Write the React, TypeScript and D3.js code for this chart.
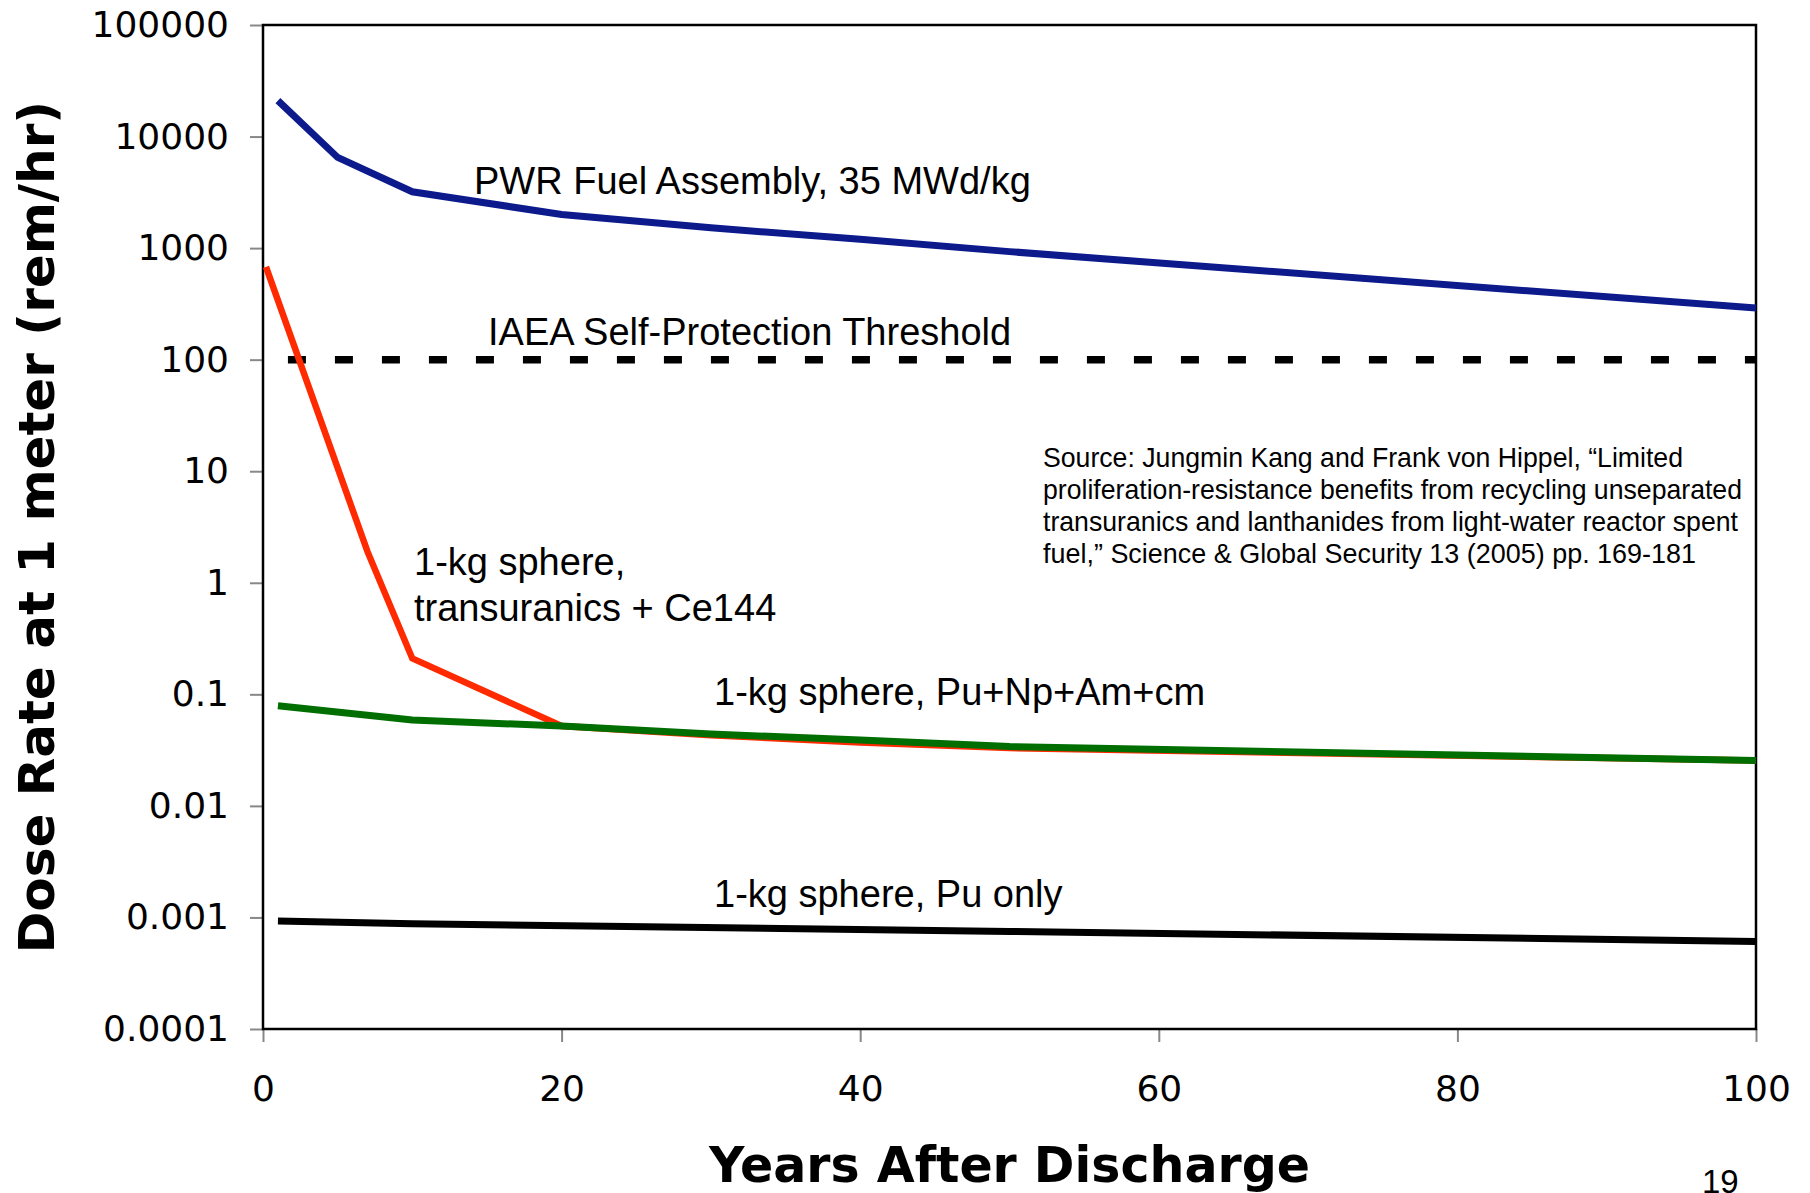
import React, { useEffect, useRef } from "react";
import * as d3 from "d3";

// values
const yearsPwr = [1, 5, 10, 20, 30, 40, 50, 100];
const dosePwr = [21000, 6500, 3200, 2000, 1520, 1200, 930, 290];

const yearsTru = [0.2, 7, 10, 20, 30, 40, 50, 100];
const doseTru = [680, 1.9, 0.21, 0.052, 0.043, 0.037, 0.033, 0.0255];

const yearsPnac = [1, 10, 20, 30, 40, 50, 100];
const dosePnac = [0.079, 0.059, 0.052, 0.044, 0.039, 0.034, 0.0255];

const yearsPu = [1, 10, 50, 100];
const dosePu = [0.00093, 0.00088, 0.00075, 0.00061];

const thresholdYears = [1, 100];
const thresholdDose = [100, 100];

const yTickValues = [100000, 10000, 1000, 100, 10, 1, 0.1, 0.01, 0.001, 0.0001];
const yTickLabels = ["100000", "10000", "1000", "100", "10", "1", "0.1", "0.01", "0.001", "0.0001"];
const xTickValues = [0, 20, 40, 60, 80, 100];

const sourceLines = [
  "Source: Jungmin Kang and Frank von Hippel, \u201cLimited",
  "proliferation-resistance benefits from recycling unseparated",
  "transuranics and lanthanides from light-water reactor spent",
  "fuel,\u201d  Science & Global Security 13 (2005) pp. 169-181",
];
const sourceWidths = [640, 699, 695, 653];

const W = 1810;
const H = 1193;
const margin = { left: 263, top: 25, right: 54, bottom: 164 };

const ARIAL = "'Liberation Sans', Arial, sans-serif";
const VERDANA = "'DejaVu Sans', Verdana, sans-serif";

function App() {
  const svgRef = useRef(null);

  useEffect(() => {
    const svg = d3.select(svgRef.current);
    svg.selectAll("*").remove();

    const x0 = margin.left;
    const x1 = W - margin.right;
    const y0 = margin.top;
    const y1 = H - margin.bottom;

    const xScale = d3.scaleLinear().domain([0, 100]).range([x0, x1]);
    const yScale = d3.scaleLog().domain([0.0001, 100000]).range([y1, y0]);

    svg.append("rect").attr("width", W).attr("height", H).attr("fill", "#fff");

    // axes
    const yAxis = d3
      .axisLeft(yScale)
      .tickValues(yTickValues)
      .tickFormat((d, i) => yTickLabels[i])
      .tickSize(13)
      .tickPadding(21);
    const gy = svg.append("g").attr("transform", `translate(${x0},0)`).call(yAxis);
    gy.select(".domain").remove();
    gy.selectAll(".tick line").attr("stroke", "#888").attr("stroke-width", 2);
    gy.selectAll(".tick text")
      .attr("font-family", VERDANA)
      .attr("font-size", 36)
      .attr("fill", "#000");

    const xAxis = d3.axisBottom(xScale).tickValues(xTickValues).tickSize(13).tickPadding(33);
    const gx = svg.append("g").attr("transform", `translate(0,${y1})`).call(xAxis);
    gx.select(".domain").remove();
    gx.selectAll(".tick line").attr("stroke", "#888").attr("stroke-width", 2);
    gx.selectAll(".tick text")
      .attr("font-family", VERDANA)
      .attr("font-size", 36)
      .attr("fill", "#000");

    // plot frame
    svg
      .append("rect")
      .attr("x", x0)
      .attr("y", y0)
      .attr("width", x1 - x0)
      .attr("height", y1 - y0)
      .attr("fill", "none")
      .attr("stroke", "#000")
      .attr("stroke-width", 2.5);

    const line = d3
      .line()
      .x((d) => xScale(d[0]))
      .y((d) => yScale(d[1]));

    const series = [
      { xs: thresholdYears, ys: thresholdDose, color: "#000", width: 7.5, dash: "18 29", offset: -10 },
      { xs: yearsPwr, ys: dosePwr, color: "#0c1a8c", width: 7 },
      { xs: yearsTru, ys: doseTru, color: "#ff2a00", width: 6.5 },
      { xs: yearsPnac, ys: dosePnac, color: "#006e00", width: 7 },
      { xs: yearsPu, ys: dosePu, color: "#000", width: 7 },
    ];

    series.forEach((s) => {
      svg
        .append("path")
        .datum(s.xs.map((v, i) => [v, s.ys[i]]))
        .attr("d", line)
        .attr("fill", "none")
        .attr("stroke", s.color)
        .attr("stroke-width", s.width)
        .attr("stroke-linejoin", "miter")
        .attr("stroke-dasharray", s.dash || null)
        .attr("stroke-dashoffset", s.offset || 0);
    });

    // curve labels
    const labels = [
      { text: "PWR Fuel Assembly, 35 MWd/kg", x: 474, y: 194 },
      { text: "IAEA Self-Protection Threshold", x: 488, y: 345 },
      { text: "1-kg sphere,", x: 414, y: 575 },
      { text: "transuranics + Ce144", x: 414, y: 621 },
      { text: "1-kg sphere, Pu+Np+Am+cm", x: 714, y: 705 },
      { text: "1-kg sphere, Pu only", x: 714, y: 907 },
    ];
    svg
      .selectAll(".curve-label")
      .data(labels)
      .join("text")
      .attr("class", "curve-label")
      .attr("x", (d) => d.x)
      .attr("y", (d) => d.y)
      .attr("font-family", ARIAL)
      .attr("font-size", 38)
      .attr("fill", "#000")
      .text((d) => d.text);

    // source note
    svg
      .selectAll(".source")
      .data(sourceLines)
      .join("text")
      .attr("class", "source")
      .attr("x", 1043)
      .attr("y", (d, i) => 467 + i * 32)
      .attr("font-family", "'Liberation Sans Narrow', 'Liberation Sans', Arial, sans-serif")
      .attr("font-size", 28)
      .attr("textLength", (d, i) => sourceWidths[i])
      .attr("lengthAdjust", "spacingAndGlyphs")
      .attr("fill", "#000")
      .text((d) => d);

    // axis titles
    svg
      .append("text")
      .attr("transform", `translate(54,${(y0 + y1) / 2}) rotate(-90)`)
      .attr("text-anchor", "middle")
      .attr("font-family", VERDANA)
      .attr("font-weight", "bold")
      .attr("font-size", 50)
      .attr("fill", "#000")
      .text("Dose Rate at 1 meter (rem/hr)");

    svg
      .append("text")
      .attr("x", (x0 + x1) / 2)
      .attr("y", 1182)
      .attr("text-anchor", "middle")
      .attr("font-family", VERDANA)
      .attr("font-weight", "bold")
      .attr("font-size", 49)
      .attr("fill", "#000")
      .text("Years After Discharge");

    // slide number
    svg
      .append("text")
      .attr("x", 1702)
      .attr("y", 1193)
      .attr("font-family", ARIAL)
      .attr("font-size", 33)
      .attr("fill", "#000")
      .text("19");
  }, []);

  return (
    <div style={{ position: "absolute", left: 0, top: 0 }}>
      <svg ref={svgRef} width={W} height={H} style={{ display: "block" }} />
    </div>
  );
}

export default App;
